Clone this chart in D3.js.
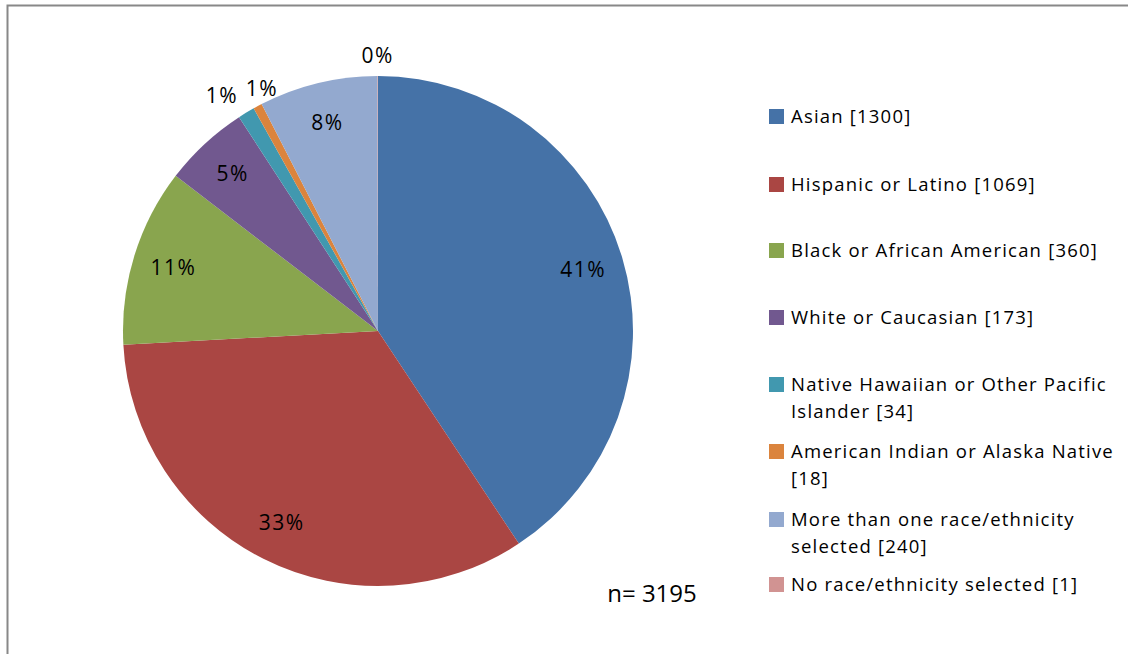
<!DOCTYPE html>
<html>
<head>
<meta charset="utf-8">
<script src="https://d3js.org/d3.v7.min.js"></script>
<style>
  body { margin: 0; background: #fff; }
  text { font-family: "Open Sans", Lato, sans-serif; fill: #000; }
</style>
</head>
<body>
<div id="pie_chart"></div>

<script>
  // data
  var categories = ["Asian", "Hispanic or Latino", "Black or African American", "White or Caucasian",
                    "Native Hawaiian or Other Pacific Islander", "American Indian or Alaska Native",
                    "More than one race/ethnicity selected", "No race/ethnicity selected"];
  var counts = [1300, 1069, 360, 173, 34, 18, 240, 1];
  // legend text split the way it wraps in the picture
  var legendLines = [["Asian [1300]"], ["Hispanic or Latino  [1069]"], ["Black or African American [360]"],
                     ["White or Caucasian [173]"], ["Native Hawaiian or Other Pacific", "Islander [34]"],
                     ["American Indian or Alaska Native", "[18]"], ["More than one race/ethnicity", "selected [240]"],
                     ["No race/ethnicity  selected [1]"]];
  var colors = ["#4572A7", "#AA4643", "#89A54E", "#71588F", "#4198AF", "#DB843D", "#93A9CF", "#D19392"];
  var total = d3.sum(counts);

  var width = 1128, height = 654;
  var cx = 378, cy = 331, radius = 255;

  var svg = d3.select("#pie_chart")
    .append("svg")
      .attr("width", width)
      .attr("height", height);

  // chart area border (only top and left show in the picture)
  svg.append("rect")
    .attr("x", 7.5)
    .attr("y", 5.5)
    .attr("width", width + 20)
    .attr("height", height + 20)
    .attr("fill", "none")
    .attr("stroke", "#888")
    .attr("stroke-width", 2);

  var data = categories.map(function(c, i) { return {name: c, value: counts[i], color: colors[i]}; });

  var pie = d3.pie()
    .sort(null)
    .value(function(d) { return d.value; });

  var arcs = pie(data);

  var arc = d3.arc().innerRadius(0).outerRadius(radius);
  var inLabel = d3.arc().innerRadius(radius * 0.84).outerRadius(radius * 0.84);
  var outLabel = d3.arc().innerRadius(radius * 1.08).outerRadius(radius * 1.08);

  var g = svg.append("g")
    .attr("transform", "translate(" + cx + "," + cy + ")");

  g.selectAll("path")
    .data(arcs)
    .enter()
    .append("path")
      .attr("d", arc)
      .attr("fill", function(d) { return d.data.color; });

  // labels: small slices go outside
  var labels = arcs.map(function(d) {
    var small = d.value / total < 0.02;
    var p = small ? outLabel.centroid(d) : inLabel.centroid(d);
    return {x: p[0], y: p[1], small: small, text: Math.round(d.value / total * 100) + "%"};
  });

  // push outside labels apart so they do not overlap
  var outs = labels.filter(function(l) { return l.small; }).sort(function(a, b) { return a.x - b.x; });
  for (var k = 0; k < 5; k++) {
    for (var i = 1; i < outs.length; i++) {
      var gap = outs[i].x - outs[i - 1].x;
      if (gap < 40 && Math.abs(outs[i].y - outs[i - 1].y) < 22) {
        var push = (40 - gap) / 2;
        outs[i - 1].x -= push;
        outs[i].x += push;
      }
    }
  }

  g.selectAll(".pct")
    .data(labels)
    .enter()
    .append("text")
      .attr("class", "pct")
      .attr("x", function(d) { return d.x; })
      .attr("y", function(d) { return d.y; })
      .attr("dy", "0.35em")
      .attr("text-anchor", "middle")
      .style("font-size", "21px")
      .style("letter-spacing", "1.5px")
      .text(function(d) { return d.text; });

  // legend
  var legendY = [117, 185, 251, 318, 385, 452, 520, 585];
  var lineH = 27;

  var legend = svg.append("g")
    .selectAll("g")
    .data(data)
    .enter()
    .append("g")
      .attr("transform", function(d, i) { return "translate(769," + legendY[i] + ")"; });

  legend.append("rect")
    .attr("x", 0)
    .attr("y", -8)
    .attr("width", 15)
    .attr("height", 15)
    .attr("fill", function(d) { return d.color; });

  legend.each(function(d, i) {
    var t = d3.select(this).append("text")
      .attr("x", 22)
      .attr("y", 0)
      .style("font-size", "18.5px")
      .style("letter-spacing", "1.2px");
    legendLines[i].forEach(function(line, j) {
      t.append("tspan")
        .attr("x", 22)
        .attr("y", j * lineH)
        .attr("dy", "0.35em")
        .text(line);
    });
  });

  // sample size note
  svg.append("text")
    .attr("x", 652)
    .attr("y", 594)
    .attr("dy", "0.35em")
    .attr("text-anchor", "middle")
    .style("font-size", "24px")
    .text("n= " + total);
</script>
</body>
</html>
